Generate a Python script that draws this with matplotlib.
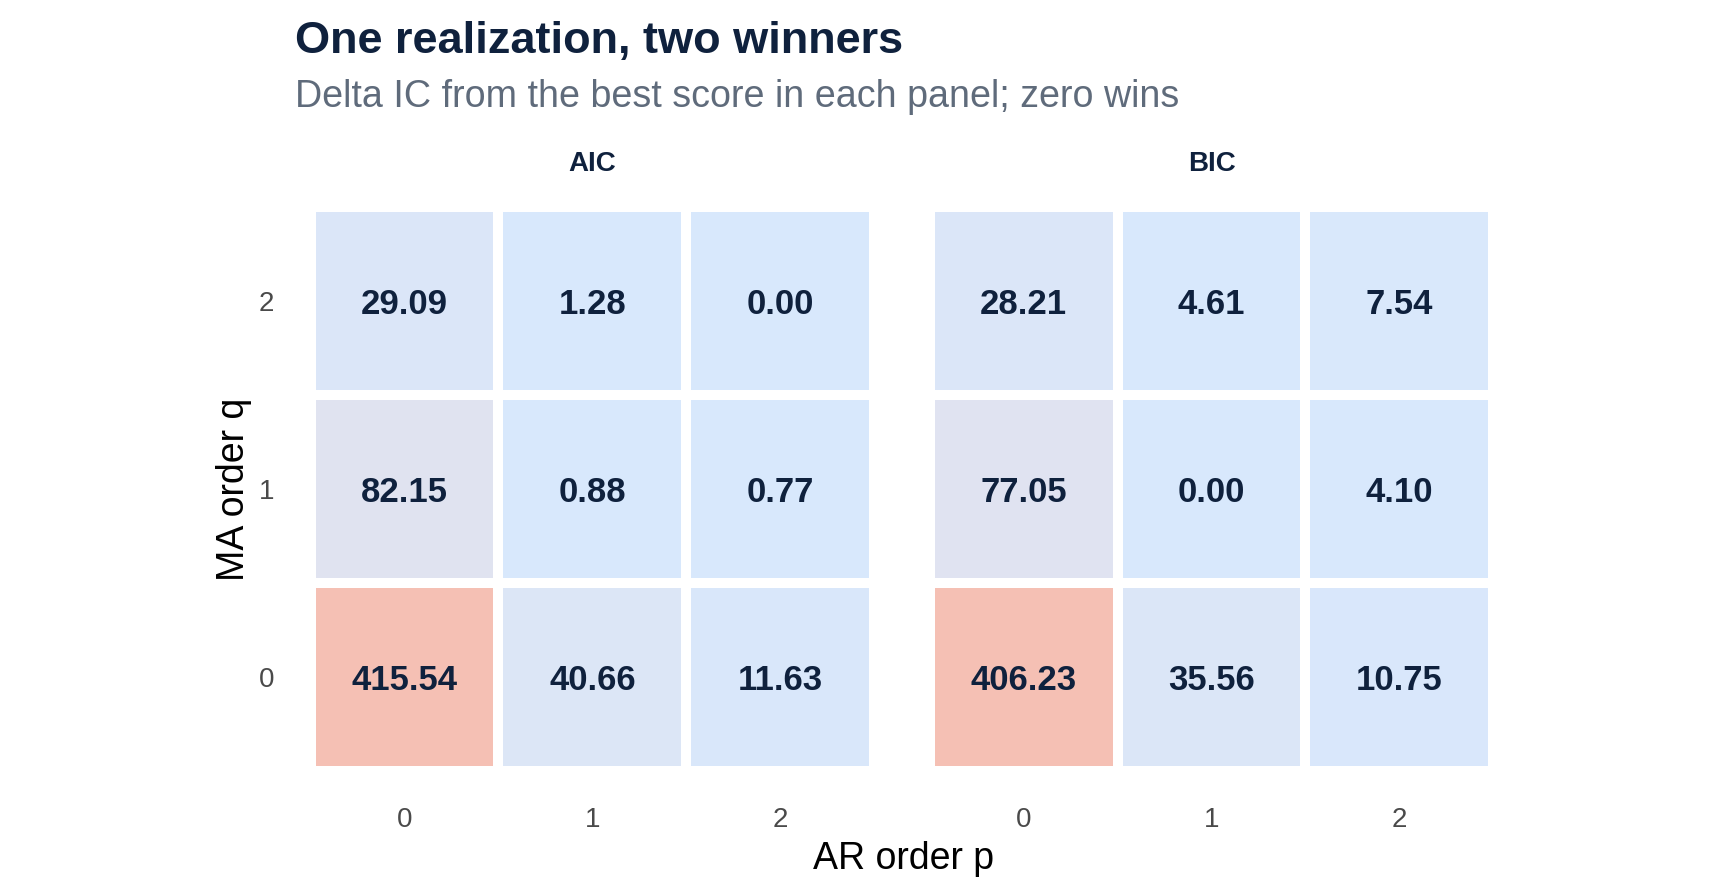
import numpy as np
import matplotlib
matplotlib.use("Agg")
import matplotlib.pyplot as plt
from matplotlib.colors import LinearSegmentedColormap, Normalize

plt.rcParams["font.family"] = ["Liberation Sans", "DejaVu Sans"]

# delta IC, rows = MA order q (0, 1, 2), cols = AR order p (0, 1, 2)
ar_orders = [0, 1, 2]
ma_orders = [0, 1, 2]
panels = ["AIC", "BIC"]
aic_delta = [
    [415.54, 40.66, 11.63],
    [82.15, 0.88, 0.77],
    [29.09, 1.28, 0.00],
]
bic_delta = [
    [406.23, 35.56, 10.75],
    [77.05, 0.00, 4.10],
    [28.21, 4.61, 7.54],
]

NAVY = "#0f213d"
cmap = LinearSegmentedColormap.from_list(
    "delta", [(0.0, "#d8e8fc"), (0.2, "#e0e3f0"), (1.0, "#f5c0b4")]
)

fig = plt.figure(figsize=(17.28, 8.96), dpi=100)
W, H = 1728, 896
ax_w, ax_h = 564 / W, 564 / H
ax_y = 1 - 771 / H
lefts = [310.5 / W, 929.5 / W]

for i, (name, vals) in enumerate(zip(panels, [aic_delta, bic_delta])):
    data = np.array(vals)
    ax = fig.add_axes([lefts[i], ax_y, ax_w, ax_h])
    norm = Normalize(vmin=0, vmax=data.max())
    ax.pcolormesh(data, cmap=cmap, norm=norm, edgecolors="white", linewidth=7)
    for r in range(data.shape[0]):
        for c in range(data.shape[1]):
            ax.text(c + 0.5, r + 0.5, f"{data[r, c]:.2f}", ha="center", va="center_baseline",
                    fontsize=25, fontweight="bold", color=NAVY)
    ax.set_xlim(0, 3)
    ax.set_ylim(0, 3)
    ax.set_xticks(np.arange(len(ar_orders)) + 0.5)
    ax.set_xticklabels([str(p) for p in ar_orders])
    ax.set_yticks(np.arange(len(ma_orders)) + 0.5)
    if i == 0:
        ax.set_yticklabels([str(q) for q in ma_orders])
    else:
        ax.set_yticklabels([])
    ax.tick_params(length=0, labelsize=20, labelcolor="#4a4a4a", pad=26)
    for s in ax.spines.values():
        s.set_visible(False)
    ax.text(0.5, 1.063, name, transform=ax.transAxes, ha="center", va="baseline",
            fontsize=20, fontweight="bold", color=NAVY)

fig.text(295 / W, 1 - 53 / H, "One realization, two winners", ha="left", va="baseline",
         fontsize=32.5, fontweight="bold", color=NAVY)
fig.text(295 / W, 1 - 107 / H, "Delta IC from the best score in each panel; zero wins",
         ha="left", va="baseline", fontsize=27.1, color="#5f6b7b")
fig.text(904 / W, 1 - 869 / H, "AR order p", ha="center", va="baseline", fontsize=27, color="black")
fig.text(234 / W, 1 - 489 / H, "MA order q", ha="center", va="center", rotation=90,
         fontsize=27, color="black")

fig.savefig("out.png", dpi=100)
